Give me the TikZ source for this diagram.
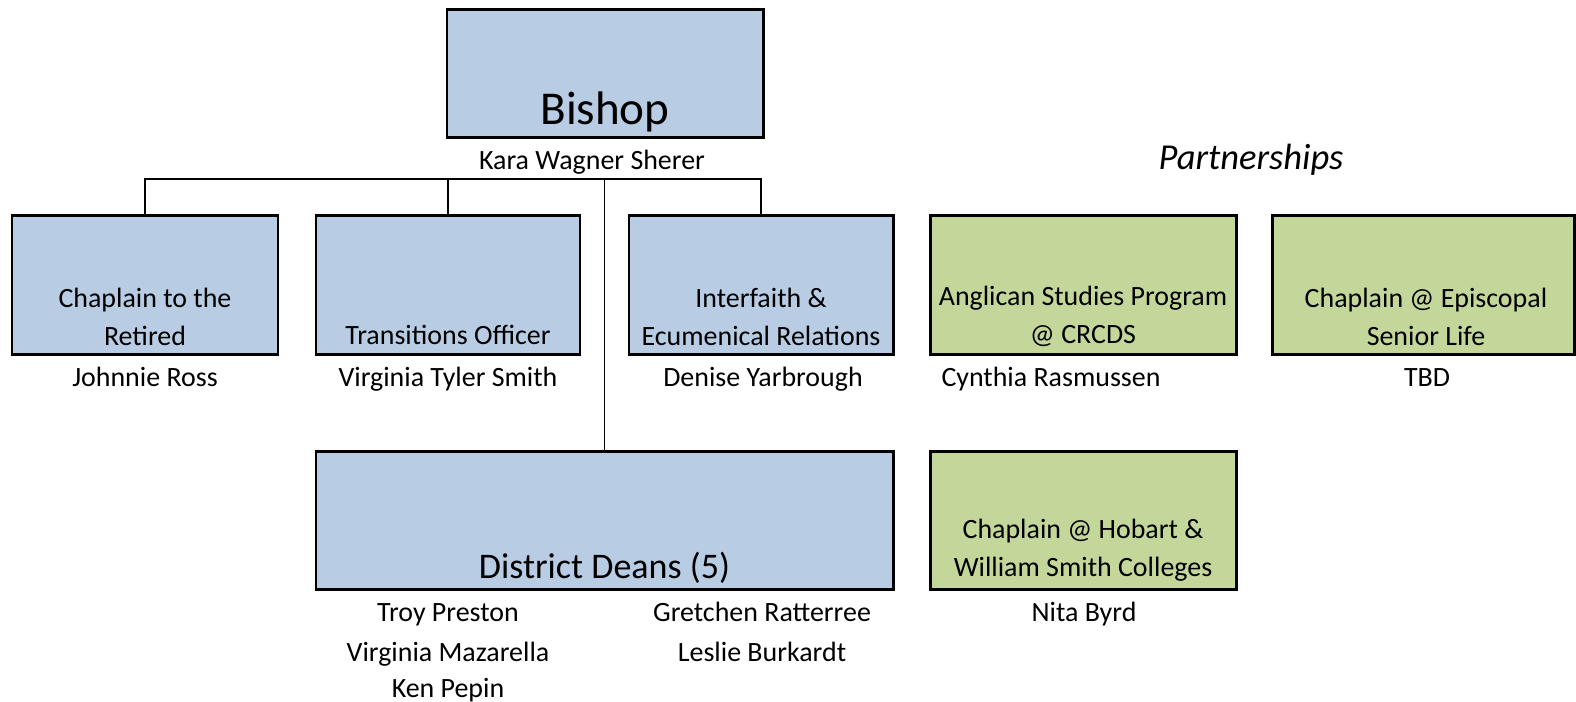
\documentclass[tikz,border=0pt]{standalone}
\usepackage{fontspec}
\setmainfont{Carlito}
\usetikzlibrary{positioning}

\begin{document}
\begin{tikzpicture}[x=0.02cm,y=-0.02cm]

		\definecolor{BoxBlue}{RGB}{184,204,228}
		\definecolor{BoxGreen}{RGB}{196,215,155}

		\tikzset{
			orgBox/.style={
				draw,
				line width=1.7pt,
				inner sep=0,
				outer sep=0pt,
			},
			orgBlue/.style={
				orgBox,
				fill=BoxBlue,
			},
			orgGreen/.style={
				orgBox,
				fill=BoxGreen,
			},
			orgText/.style={
				align=center,
				inner sep=0,
				font=\fontsize{15.9}{21.6}\selectfont,
			},
			orgName/.style={
				inner sep=0,
				anchor=base,
				font=\fontsize{15.9}{21.6}\selectfont,
			},
			orgLink/.style={
				line width=0.85pt,
			},
		}

		\useasboundingbox (0,0) rectangle (1576,701);

		% Bishop
		\node[orgBlue,minimum width=316*0.02cm,minimum height=128*0.02cm] (bishop) at (605,73) {};
		\node[inner sep=0,anchor=base,font=\fontsize{26.8}{30}\selectfont] (bishopt) at (605,124) {Bishop};
		\node[orgName] (bishopn) at (592,169) {Kara Wagner Sherer};

		% Staff
		\node[orgBlue,minimum width=266*0.02cm,minimum height=139*0.02cm] (retired) at (145,284.5) {};
		\node[orgText] (retiredt) at (145,316.5) {Chaplain to the\\Retired};
		\node[orgName] (retiredn) at (145,386) {Johnnie Ross};

		\node[orgBlue,minimum width=264*0.02cm,minimum height=139*0.02cm] (transitions) at (448,284.5) {};
		\node[orgText,anchor=base] (transitionst) at (448,344) {Transitions Officer};
		\node[orgName] (transitionsn) at (448,386) {Virginia Tyler Smith};

		\node[orgBlue,minimum width=264*0.02cm,minimum height=139*0.02cm] (interfaith) at (761,284.5) {};
		\node[orgText] (interfaitht) at (761,316.5) {Interfaith \&\\Ecumenical Relations};
		\node[orgName] (interfaithn) at (763,386) {Denise Yarbrough};

		% Deans
		\node[orgBlue,minimum width=577*0.02cm,minimum height=138*0.02cm] (deans) at (604.5,520) {};
		\node[inner sep=0,anchor=base,font=\fontsize{20.5}{24}\selectfont] (deanst) at (604.5,578) {District Deans (5)};
		\node[orgName] (deansa) at (448,621) {Troy Preston};
		\node[orgName] (deansb) at (448,661) {Virginia Mazarella};
		\node[orgName] (deansc) at (448,697) {Ken Pepin};
		\node[orgName] (deansd) at (762,621) {Gretchen Ratterree};
		\node[orgName] (deanse) at (762,661) {Leslie Burkardt};

		% Partnerships
		\node[inner sep=0,anchor=base,font=\fontsize{20.8}{24}\selectfont\itshape] (partner) at (1251,169) {Partnerships};

		\node[orgGreen,minimum width=306*0.02cm,minimum height=139*0.02cm] (anglican) at (1083,284.5) {};
		\node[orgText] (anglicant) at (1083,316.5) {Anglican Studies Program\\@ CRCDS};
		\node[orgName] (anglicann) at (1051,386) {Cynthia Rasmussen};

		\node[orgGreen,minimum width=302*0.02cm,minimum height=139*0.02cm] (episcopal) at (1423,284.5) {};
		\node[orgText] (episcopalt) at (1426,316.5) {Chaplain @ Episcopal\\Senior Life};
		\node[orgName] (episcopaln) at (1427,386) {TBD};

		\node[orgGreen,minimum width=306*0.02cm,minimum height=138*0.02cm] (hobart) at (1083,520) {};
		\node[orgText] (hobartt) at (1083,550) {Chaplain @ Hobart \&\\William Smith Colleges};
		\node[orgName] (hobartn) at (1084,621) {Nita Byrd};

		% Links
		\coordinate (bus) at (deans.north |- 0,179);
		\draw[orgLink] (retired.north) |- (bus) -| (interfaith.north);
		\draw[orgLink] (transitions.north) -- (transitions.north |- bus);
		\draw[orgLink] (bus) -- (deans.north);

	\end{tikzpicture}
\end{document}
